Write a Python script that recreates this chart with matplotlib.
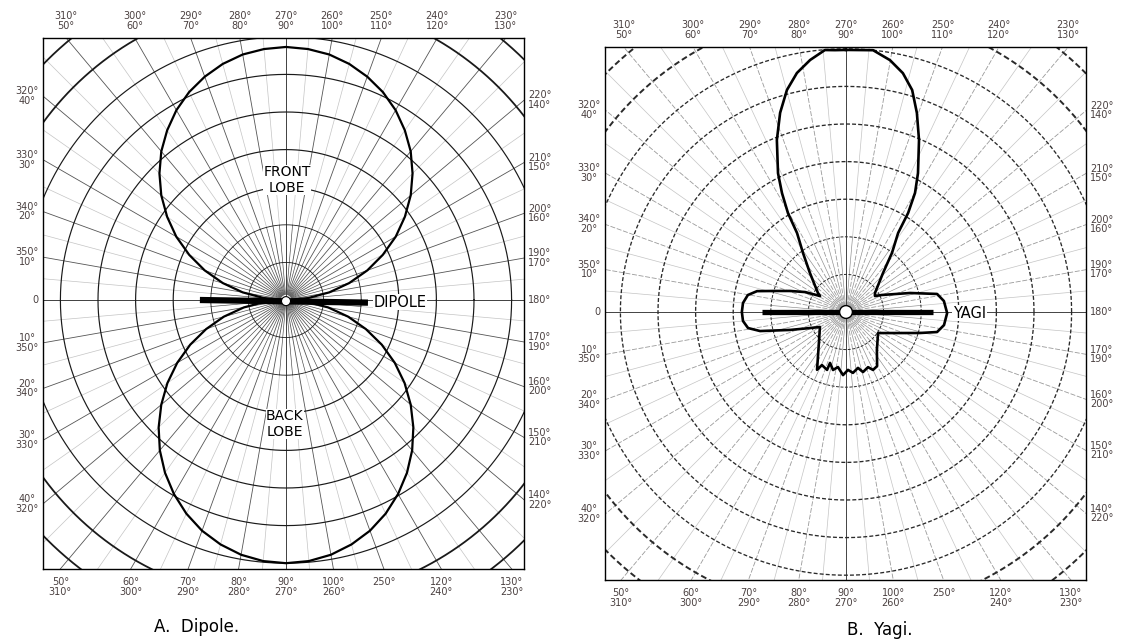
import numpy as np
import matplotlib.pyplot as plt

# ---- data (radius in grid rings, angle in chart degrees:
#      0 = left, 90 = up / front, 180 = right, negative = lower half)
dipole_angles = list(range(0, 181, 5))
dipole_front_r = [0.00, 0.59, 1.17, 1.74, 2.30, 2.84, 3.37, 3.86, 4.33, 4.76, 5.16, 5.51,
                  5.83, 6.10, 6.32, 6.50, 6.63, 6.70, 6.73, 6.70, 6.63, 6.50, 6.32, 6.10,
                  5.83, 5.51, 5.16, 4.76, 4.33, 3.86, 3.37, 2.84, 2.30, 1.74, 1.17, 0.59, 0.00]
dipole_back_r = [0.00, 0.57, 1.14, 1.71, 2.26, 2.81, 3.34, 3.85, 4.33, 4.79, 5.22, 5.61,
                 5.96, 6.27, 6.53, 6.73, 6.88, 6.97, 7.00, 6.97, 6.88, 6.73, 6.53, 6.27,
                 5.96, 5.61, 5.22, 4.79, 4.33, 3.85, 3.34, 2.81, 2.26, 1.71, 1.14, 0.57, 0.00]

yagi_angles = [90, 87.6, 85.4, 81.9, 78.4, 75.1, 71.7, 68.1, 63.9, 61.7,
               59.6, 58.2, 53.9, 47.2, 34.1, 31.6, 26.0, 20.6, 16.5, 13.2,
               9.8, 5.0, 0.0, -5.0, -9.3, -12.5, -17.8, -24.0, -29.9, -46.0,
               -56.9, -63.4, -65.6, -71.9, -72.6, -77.4, -81.7, -87.3, -92.0, -96.5,
               -102.1, -105.8, -111.8, -115.0, -119.9, -129.2, -146.7, -149.7, -158.7, -164.2,
               -167.6, -172.4, -179.4, -186.4, -191.2, -196.5, -205.3, -208.9, -213.2, -226.5,
               -232.1, -236.6, -237.9, -239.9, -242.6, -247.0, -250.4, -253.4, -256.6, -260.1,
               -264.1, -270]
yagi_r = [6.97, 6.97, 6.99, 6.77, 6.49, 6.11, 5.58, 4.93, 4.11, 3.59,
          3.05, 2.47, 1.94, 1.41, 0.90, 0.81, 1.21, 1.59, 1.97, 2.43,
          2.65, 2.75, 2.77, 2.75, 2.64, 2.34, 1.56, 1.05, 0.80, 1.03,
          1.36, 1.72, 1.55, 1.62, 1.42, 1.58, 1.48, 1.68, 1.54, 1.63,
          1.52, 1.66, 1.58, 1.70, 1.66, 1.30, 1.02, 1.11, 1.54, 2.05,
          2.48, 2.63, 2.69, 2.62, 2.47, 1.78, 1.06, 0.88, 0.92, 1.43,
          1.99, 2.52, 3.11, 3.66, 4.16, 4.97, 5.62, 6.16, 6.53, 6.80,
          7.00, 6.97]

# antenna elements (x, y in rings)
dipole_element_x = [-2.29, 2.18]
dipole_element_y = [0.0, -0.07]
yagi_element_x = [-2.23, 2.31]
yagi_element_y = [0.0, 0.0]

# edge labels: chart angle -> text
edge_angles = [50, 60, 70, 80, 90, 100, 110, 120, 130,
               40, 30, 20, 10, 0, -10, -20, -30, -40,
               -50, -60, -70, -80, -90, -100, -110, -120, -130,
               140, 150, 160, 170, 180, -170, -160, -150, -140]
edge_labels = ["310°\n50°", "300°\n60°", "290°\n70°", "280°\n80°", "270°\n90°",
               "260°\n100°", "250°\n110°", "240°\n120°", "230°\n130°",
               "320°\n40°", "330°\n30°", "340°\n20°", "350°\n10°", "0",
               "10°\n350°", "20°\n340°", "30°\n330°", "40°\n320°",
               "50°\n310°", "60°\n300°", "70°\n290°", "80°\n280°", "90°\n270°",
               "100°\n260°", "250°", "120°\n240°", "130°\n230°",
               "220°\n140°", "210°\n150°", "200°\n160°", "190°\n170°", "180°",
               "170°\n190°", "160°\n200°", "150°\n210°", "140°\n220°"]

W, H = 1125, 644
RING = 37.6   # pixels per grid ring
fig = plt.figure(figsize=(W / 100, H / 100), dpi=100)


def xy(angles, r):
    a = np.radians(np.asarray(angles, dtype=float))
    r = np.asarray(r, dtype=float)
    return -r * np.cos(a), r * np.sin(a)


def add_panel(frame, center, dashed):
    x0, y0, x1, y1 = frame
    cx, cy = center
    ax = fig.add_axes([x0 / W, 1 - y1 / H, (x1 - x0) / W, (y1 - y0) / H])
    ax.set_xlim((x0 - cx) / RING, (x1 - cx) / RING)
    ax.set_ylim((cy - y1) / RING, (cy - y0) / RING)
    ax.set_xticks([])
    ax.set_yticks([])
    for s in ax.spines.values():
        s.set_linewidth(1.0)
        s.set_color('black')

    t = np.linspace(0, 2 * np.pi, 721)
    for k in range(1, 11):
        lw = 1.3 if k >= 8 else (0.6 if k <= 2 else 0.85)
        if dashed:
            ax.plot(k * np.cos(t), k * np.sin(t), color='#2a2a2a', lw=lw + 0.1,
                    ls=(0, (3, 1.6)), zorder=2)
        else:
            ax.plot(k * np.cos(t), k * np.sin(t), color='#1a1a1a', lw=lw, zorder=2)

    # radial lines
    for a in range(0, 360, 5):
        c, s = np.cos(np.radians(a)), np.sin(np.radians(a))
        if a % 10 == 0:
            col = '#9a9a9a' if dashed else '#555555'
            ls = (0, (6, 2)) if dashed else '-'
            ax.plot([0.15 * c, 12 * c], [0.15 * s, 12 * s], color=col, lw=0.6, ls=ls, zorder=1)
        else:
            ax.plot([2 * c, 12 * c], [2 * s, 12 * s], color='#c4c4c4', lw=0.5, zorder=1)
            ax.plot([0.15 * c, 2 * c], [0.15 * s, 2 * s],
                    color='#8a8a8a' if dashed else '#444444', lw=0.45, zorder=1)
    ax.plot([-12, 12], [0, 0], color='#444444', lw=0.7, zorder=1)
    ax.plot([0, 0], [-12, 12], color='#444444', lw=0.7, zorder=1)

    # edge labels where the 10 degree radials meet the frame
    xl, yl = ax.get_xlim(), ax.get_ylim()
    for ang, lab in zip(edge_angles, edge_labels):
        dx, dy = -np.cos(np.radians(ang)), np.sin(np.radians(ang))
        cand = []
        if dx < -1e-9:
            cand.append((xl[0] / dx, 'left'))
        if dx > 1e-9:
            cand.append((xl[1] / dx, 'right'))
        if dy > 1e-9:
            cand.append((yl[1] / dy, 'top'))
        if dy < -1e-9:
            cand.append((yl[0] / dy, 'bottom'))
        rr, side = min(cand)
        px, py = rr * dx, rr * dy
        off = {'top': (0, 5), 'bottom': (0, -6), 'left': (-3, 0), 'right': (3, 0)}[side]
        ha = {'top': 'center', 'bottom': 'center', 'left': 'right', 'right': 'left'}[side]
        va = {'top': 'bottom', 'bottom': 'top', 'left': 'center', 'right': 'center'}[side]
        ax.annotate(lab, (px, py), xytext=off, textcoords='offset points', ha=ha, va=va,
                    multialignment='center', fontsize=7, color='#4a4040', linespacing=0.95,
                    annotation_clip=False)
    return ax


# ---- A. Dipole
axA = add_panel((43, 38, 524, 569), (286, 300), dashed=False)
fx, fy = xy(dipole_angles, dipole_front_r)
bx, by = xy([-a for a in dipole_angles], dipole_back_r)
axA.plot(fx, fy, color='black', lw=1.6, zorder=4)
axA.plot(bx, by, color='black', lw=1.6, zorder=4)
axA.plot(dipole_element_x, dipole_element_y, color='black', lw=4.5, solid_capstyle='butt', zorder=5)
axA.add_patch(plt.Circle((0, -0.03), 0.12, facecolor='white', edgecolor='black', lw=0.8, zorder=6))
axA.text(0.03, 3.19, "FRONT\nLOBE", ha='center', va='center', fontsize=10, linespacing=1.15,
         zorder=5, bbox=dict(facecolor='white', edgecolor='none', pad=0.3))
axA.text(-0.03, -3.3, "BACK\nLOBE", ha='center', va='center', fontsize=10, linespacing=1.15,
         zorder=5, bbox=dict(facecolor='white', edgecolor='none', pad=0.3))
axA.text(2.33, -0.06, "DIPOLE", ha='left', va='center', fontsize=10.5, zorder=5,
         bbox=dict(facecolor='white', edgecolor='none', pad=0.5))

# ---- B. Yagi
axB = add_panel((605, 47, 1086, 580), (846, 312), dashed=True)
yx, yy = xy(yagi_angles, yagi_r)
axB.plot(yx, yy, color='black', lw=1.9, zorder=4)
axB.plot(yagi_element_x, yagi_element_y, color='black', lw=3.8, solid_capstyle='butt', zorder=5)
axB.add_patch(plt.Circle((0, 0), 0.17, facecolor='white', edgecolor='black', lw=1.0, zorder=6))
axB.text(2.85, -0.03, "YAGI", ha='left', va='center', fontsize=10.5, zorder=5,
         bbox=dict(facecolor='white', edgecolor='none', pad=0.5))

fig.text(197 / W, 1 - 627 / H, "A.  Dipole.", ha='center', va='center', fontsize=12)
fig.text(880 / W, 1 - 630 / H, "B.  Yagi.", ha='center', va='center', fontsize=12)

fig.savefig('out.png', dpi=100, facecolor='white')
